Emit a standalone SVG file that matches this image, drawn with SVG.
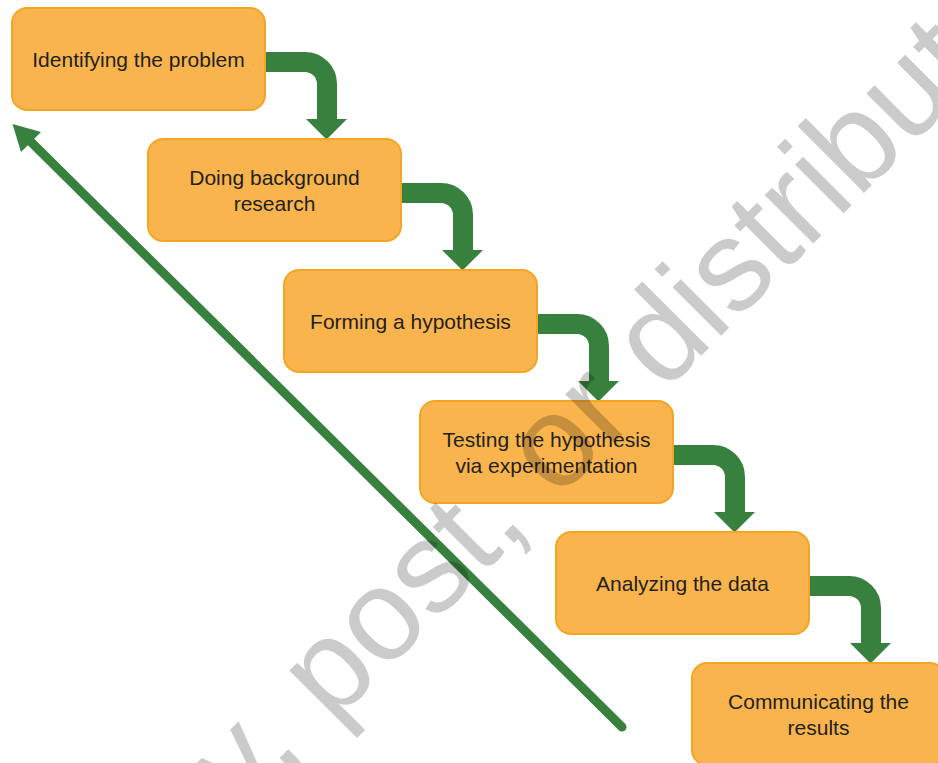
<svg xmlns="http://www.w3.org/2000/svg" width="938" height="763" viewBox="0 0 938 763">
  <style>
    .box { fill: #F9B44D; stroke: #F5A524; stroke-width: 2; }
    .lbl { font-family: "Liberation Sans", Arial, sans-serif; font-size: 21px; fill: #231F20; text-anchor: middle; }
    .flow { fill: none; stroke: #37803E; stroke-width: 20; }
    .head { fill: #37803E; }
    .mark { font-family: "Liberation Sans", Arial, sans-serif; font-size: 130px; fill: #000; }
  </style>
  <defs>
    <!-- bent step arrow: from a box's right edge down onto the next box -->
    <g id="step">
      <path class="flow" d="M 258 62 H 305 A 22 22 0 0 1 327 84 V 121"/>
      <polygon class="head" points="306,119 347,119 326.5,139.5"/>
    </g>
  </defs>

  <rect width="938" height="763" fill="#FFFFFF"/>

  <g id="connectors">
    <use href="#step"/>
    <use href="#step" transform="translate(136,131)"/>
    <use href="#step" transform="translate(272,262)"/>
    <use href="#step" transform="translate(408,393)"/>
    <use href="#step" transform="translate(544,524)"/>
    <!-- long return arrow back to the first step -->
    <line x1="622" y1="727" x2="27" y2="138" stroke="#37803E" stroke-width="9" stroke-linecap="round"/>
    <polygon class="head" points="12.5,124 41,132 21,152"/>
  </g>

  <g id="node-identify">
    <rect class="box" x="12" y="8" width="253" height="102" rx="15"/>
    <text class="lbl" x="138.5" y="66.5">Identifying the problem</text>
  </g>
  <g id="node-research">
    <rect class="box" x="148" y="139" width="253" height="102" rx="15"/>
    <text class="lbl" x="274.5" y="184.5">Doing background</text>
    <text class="lbl" x="274.5" y="210.5">research</text>
  </g>
  <g id="node-hypothesis">
    <rect class="box" x="284" y="270" width="253" height="102" rx="15"/>
    <text class="lbl" x="410.5" y="328.5">Forming a hypothesis</text>
  </g>
  <g id="node-testing">
    <rect class="box" x="420" y="401" width="253" height="102" rx="15"/>
    <text class="lbl" x="546.5" y="446.5">Testing the hypothesis</text>
    <text class="lbl" x="546.5" y="472.5">via experimentation</text>
  </g>
  <g id="node-analyzing">
    <rect class="box" x="556" y="532" width="253" height="102" rx="15"/>
    <text class="lbl" x="682.5" y="590.5">Analyzing the data</text>
  </g>
  <g id="node-communicating">
    <rect class="box" x="692" y="663" width="253" height="102" rx="15"/>
    <text class="lbl" x="818.5" y="708.5">Communicating the</text>
    <text class="lbl" x="818.5" y="734.5">results</text>
  </g>

  <!-- translucent diagonal watermark over the whole sheet -->
  <g id="watermark" opacity="0.2">
    <text class="mark" transform="translate(-203,1260) rotate(-45)">Do not copy, post, or distribute</text>
  </g>
</svg>
